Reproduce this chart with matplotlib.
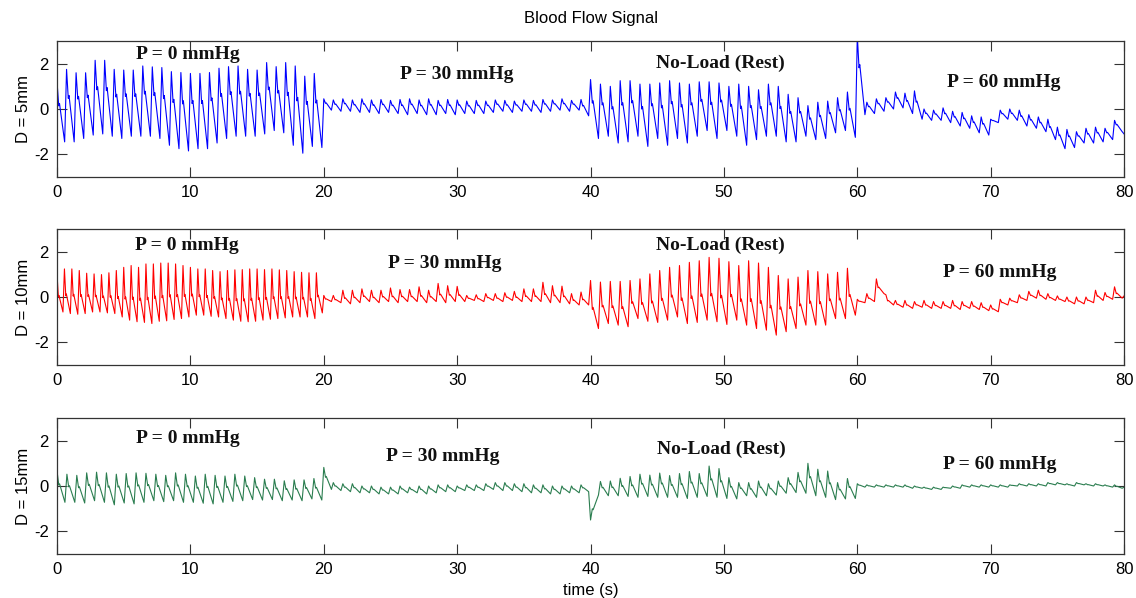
"""
Blood flow signal, three probe depths, four loading phases.
"""
import numpy as np
import matplotlib
matplotlib.use("Agg")
import matplotlib.pyplot as plt

plt.rcParams.update({
    "font.family": "Liberation Sans", "font.size": 12,
    "figure.facecolor": "white", "axes.facecolor": "white",
    "axes.unicode_minus": False,
})

# ── data: per-beat peak / trough values ──────────────────────────────────────
PHASES = ["P = 0 mmHg", "P = 30 mmHg", "No-Load (Rest)", "P = 60 mmHg"]
PHASE_STARTS = [0, 20, 40, 60]
DEPTHS = ["D = 5mm", "D = 10mm", "D = 15mm"]

# D = 5mm
D5_P0_PEAKS = [1.2, 1.75, 1.6, 1.6, 2.15, 2.15, 1.75, 1.72, 1.72, 1.9, 1.86, 1.83, 1.65, 1.61,
               1.57, 1.57, 1.61, 1.8, 1.87, 1.9, 1.75, 1.72, 2.05, 1.87, 2.05, 1.9, 1.45, 1.57]
D5_P0_TROUGHS = [-1.45, -1.45, -1.3, -1.15, -1.1, -1.2, -1.3, -1.2, -1.2, -1.2, -1.3, -1.6, -1.75, -1.85,
                 -1.75, -1.75, -1.5, -1.3, -1.2, -1.2, -1.2, -1.1, -0.95, -1.05, -1.6, -1.95, -1.65, -1.7]
D5_P30_PEAKS = [0.45, 0.4, 0.45, 0.4, 0.45, 0.4, 0.42, 0.38, 0.42, 0.45, 0.4, 0.45, 0.38, 0.42,
                0.4, 0.35, 0.38, 0.35, 0.4, 0.38, 0.35, 0.4, 0.38, 0.42, 0.4, 0.45, 0.38, 0.42]
D5_P30_TROUGHS = [-0.05, -0.1, -0.1, -0.15, -0.15, -0.2, -0.15, -0.2, -0.25, -0.2, -0.25, -0.25, -0.2, -0.25,
                  -0.2, -0.2, -0.2, -0.15, -0.1, -0.15, -0.1, -0.1, -0.15, -0.1, -0.05, -0.1, -0.05, -0.3]
D5_REST_PEAKS = [1.3, 1.1, 1.0, 1.25, 1.25, 1.1, 1.1, 1.15, 1.25, 1.15, 1.1, 1.2, 1.2, 1.15,
                 1.0, 1.1, 1.0, 0.85, 1.1, 1.0, 0.65, 0.5, 0.15, 0.3, 0.35, 0.5, 0.75]
D5_REST_TROUGHS = [-1.3, -1.2, -1.5, -1.45, -1.2, -1.65, -1.3, -1.6, -1.3, -1.5, -1.2, -0.95, -1.3, -0.95,
                   -1.2, -1.6, -1.35, -1.2, -1.2, -1.45, -1.45, -1.2, -1.35, -1.3, -1.05, -0.95, -1.25]
D5_P60_PEAKS = [3.2, 0.3, 0.45, 0.5, 0.75, 0.7, 0.8, 0.0, -0.05, 0.05, -0.1, -0.15, -0.3, -0.35,
                -0.45, -0.05, 0.0, -0.05, -0.25, -0.35, -0.45, -0.8, -0.9, -1.0, -0.85, -0.8, -0.85, -0.5]
D5_P60_TROUGHS = [-0.25, -0.2, -0.1, 0.0, 0.05, -0.2, -0.45, -0.5, -0.5, -0.6, -0.75, -0.85, -1.05, -1.15,
                  -0.6, -0.45, -0.5, -0.75, -0.85, -1.0, -1.35, -1.75, -1.7, -1.5, -1.5, -1.45, -1.35, -1.0]
D5_END = -1.1

# D = 10mm
D10_P0_PEAKS = [1.0, 1.24, 1.24, 1.17, 1.05, 1.02, 0.99, 1.07, 1.17, 1.31, 1.39, 1.31, 1.46, 1.46,
                1.5, 1.5, 1.46, 1.39, 1.31, 1.24, 1.24, 1.17, 1.12, 1.17, 1.2, 1.21, 1.24, 1.24,
                1.21, 1.24, 1.2, 1.17, 1.12, 1.09, 1.07, 1.07]
D10_P0_TROUGHS = [-0.66, -0.73, -0.76, -0.73, -0.66, -0.66, -0.7, -0.73, -0.88, -1.02, -1.09, -1.12, -1.17, -1.07,
                  -1.05, -0.99, -0.95, -0.88, -0.8, -0.8, -0.85, -0.88, -0.95, -1.02, -1.07, -1.09, -1.07, -1.02,
                  -0.98, -0.95, -0.92, -0.88, -0.88, -0.88, -0.95, -0.7]
D10_P30_PEAKS = [0.07, 0.07, 0.3, 0.3, 0.36, 0.3, 0.3, 0.4, 0.33, 0.33, 0.45, 0.3, 0.6, 0.5,
                 0.47, 0.07, 0.1, 0.15, 0.15, 0.19, 0.25, 0.36, 0.36, 0.65, 0.5, 0.48, 0.15, 0.22]
D10_P30_TROUGHS = [-0.2, -0.25, -0.3, -0.25, -0.2, -0.25, -0.2, -0.25, -0.2, -0.2, -0.25, -0.2, -0.25, -0.2,
                   -0.2, -0.15, -0.2, -0.15, -0.2, -0.15, -0.2, -0.2, -0.2, -0.25, -0.25, -0.3, -0.35, -0.35]
D10_REST_PEAKS = [0.73, 0.66, 0.69, 0.69, 0.73, 0.8, 1.02, 1.17, 1.31, 1.39, 1.53, 1.6, 1.75, 1.71,
                  1.56, 1.39, 1.6, 1.5, 1.31, 0.95, 0.8, 0.88, 1.17, 1.12, 1.02, 1.09, 1.27]
D10_REST_TROUGHS = [-1.39, -1.17, -1.24, -1.31, -0.95, -1.07, -1.12, -1.02, -0.88, -1.17, -1.12, -1.02, -1.09, -1.21,
                    -1.02, -1.24, -1.39, -1.46, -1.68, -1.53, -1.39, -1.24, -1.24, -1.24, -0.95, -0.95, -0.8]
D10_P60_PEAKS = [-0.1, 0.15, 0.8, 0.1, -0.15, -0.15, -0.2, -0.15, -0.2, -0.2, -0.15, -0.2, -0.2, -0.25,
                 -0.35, -0.1, -0.05, 0.1, 0.25, 0.3, 0.15, 0.05, 0.0, 0.0, 0.0, 0.3, 0.2, 0.45]
D10_P60_TROUGHS = [-0.25, -0.2, 0.15, -0.35, -0.45, -0.5, -0.45, -0.5, -0.5, -0.5, -0.55, -0.5, -0.55, -0.6,
                   -0.65, -0.35, -0.25, -0.15, -0.05, -0.1, -0.15, -0.2, -0.3, -0.3, -0.25, -0.15, -0.1, -0.05]
D10_END = 0.05

# D = 15mm
D15_P0_PEAKS = [0.66, 0.52, 0.47, 0.58, 0.61, 0.58, 0.52, 0.55, 0.58, 0.56, 0.52, 0.47, 0.58, 0.52,
                0.44, 0.52, 0.47, 0.44, 0.52, 0.44, 0.37, 0.3, 0.3, 0.23, 0.27, 0.27, 0.33]
D15_P0_TROUGHS = [-0.72, -0.72, -0.75, -0.65, -0.72, -0.83, -0.75, -0.79, -0.72, -0.65, -0.69, -0.65, -0.72, -0.72,
                  -0.76, -0.79, -0.72, -0.68, -0.65, -0.6, -0.62, -0.6, -0.65, -0.62, -0.65, -0.57, -0.62]
D15_P30_PEAKS = [0.82, 0.15, 0.1, 0.1, 0.0, 0.0, -0.05, -0.05, 0.0, -0.05, 0.0, 0.0, 0.05, 0.05,
                 0.0, 0.05, 0.05, 0.1, 0.15, 0.15, 0.1, 0.1, 0.05, 0.05, 0.0, 0.0, 0.0, 0.05]
D15_P30_TROUGHS = [-0.15, -0.2, -0.25, -0.3, -0.3, -0.35, -0.35, -0.35, -0.3, -0.3, -0.35, -0.3, -0.25, -0.25,
                   -0.2, -0.2, -0.2, -0.15, -0.2, -0.2, -0.25, -0.3, -0.3, -0.35, -0.35, -0.3, -0.3, -0.25]
D15_REST_PEAKS = [-1.5, 0.2, 0.22, 0.34, 0.42, 0.52, 0.48, 0.57, 0.46, 0.55, 0.64, 0.55, 0.88, 0.77,
                  0.37, 0.15, 0.15, 0.22, 0.1, 0.22, 0.37, 0.6, 1.0, 0.74, 0.66, 0.15, 0.33]
D15_REST_TROUGHS = [-0.4, -0.43, -0.43, -0.46, -0.5, -0.46, -0.5, -0.5, -0.5, -0.55, -0.5, -0.46, -0.5, -0.55,
                    -0.57, -0.43, -0.5, -0.43, -0.4, -0.32, -0.29, -0.32, -0.43, -0.5, -0.6, -0.57, -0.55]
D15_P60_PEAKS = [0.1, 0.05, 0.05, 0.05, 0.05, 0.05, 0.0, -0.05, -0.05, -0.05, 0.0, 0.05, 0.05, 0.05,
                 0.05, 0.05, 0.05, 0.1, 0.1, 0.1, 0.15, 0.15, 0.1, 0.15, 0.1, 0.1, 0.05, 0.05]
D15_P60_TROUGHS = [-0.05, -0.05, -0.05, -0.05, -0.05, -0.1, -0.1, -0.15, -0.15, -0.1, -0.1, -0.05, -0.05, -0.05,
                   -0.05, -0.05, 0.0, 0.0, 0.0, 0.0, 0.05, 0.05, 0.0, 0.05, 0.0, 0.0, -0.05, -0.1]
D15_END = -0.05

SIGNALS = [
    ([D5_P0_PEAKS, D5_P30_PEAKS, D5_REST_PEAKS, D5_P60_PEAKS],
     [D5_P0_TROUGHS, D5_P30_TROUGHS, D5_REST_TROUGHS, D5_P60_TROUGHS], D5_END),
    ([D10_P0_PEAKS, D10_P30_PEAKS, D10_REST_PEAKS, D10_P60_PEAKS],
     [D10_P0_TROUGHS, D10_P30_TROUGHS, D10_REST_TROUGHS, D10_P60_TROUGHS], D10_END),
    ([D15_P0_PEAKS, D15_P30_PEAKS, D15_REST_PEAKS, D15_P60_PEAKS],
     [D15_P0_TROUGHS, D15_P30_TROUGHS, D15_REST_TROUGHS, D15_P60_TROUGHS], D15_END),
]

# ── styling ──────────────────────────────────────────────────────────────────
COLORS = ["#0000ff", "#ff0000", "#2a7d4f"]
NOTCH = [0.6, 0.4, 0.55]          # dicrotic notch level within each beat (fraction of swing)
LABEL_XY = [  # (x, y) of the phase labels per panel
    [(9.8, 2.42), (30.0, 1.54), (49.7, 2.03), (71.0, 1.19)],
    [(9.7, 2.29), (29.1, 1.5), (49.7, 2.29), (70.7, 1.1)],
    [(9.8, 2.1), (28.9, 1.28), (49.8, 1.63), (70.7, 0.97)],
]
AX_BOTTOMS = [0.7040, 0.3896, 0.0736]
FRAME = "#333333"
SEG_LEN = 20


def beat_trace(start, peaks, troughs, notch):
    """Beat shape: sharp peak, drop to notch, small bump, fall to trough."""
    dt = SEG_LEN / len(peaks)
    ts, ys = [], []
    for i, (p, tr) in enumerate(zip(peaks, troughs)):
        t0 = start + i * dt
        ts += [t0, t0 + 0.18 * dt, t0 + 0.26 * dt, t0 + 0.8 * dt]
        ys += [p, tr + notch * (p - tr), tr + (notch + 0.04) * (p - tr), tr]
    return ts, ys


fig = plt.figure(figsize=(11.36, 5.98), dpi=100)
axes = []
for k, (peaks_list, troughs_list, end_val) in enumerate(SIGNALS):
    ax = fig.add_axes([0.0502, AX_BOTTOMS[k], 0.9393, 0.2274])
    axes.append(ax)
    t_all, y_all = [], []
    for start, pk, tr in zip(PHASE_STARTS, peaks_list, troughs_list):
        ts, ys = beat_trace(start, pk, tr, NOTCH[k])
        t_all += ts; y_all += ys
    t_all.append(80); y_all.append(end_val)
    ax.plot(t_all, y_all, color=COLORS[k], lw=0.8)

    for label, (lx, ly) in zip(PHASES, LABEL_XY[k]):
        ax.text(lx, ly, label, ha="center", va="center", fontsize=14,
                fontweight="bold", family="Liberation Serif", color="#111111")

    ax.set_xlim(0, 80)
    ax.set_ylim(-3, 3)
    ax.set_xticks(range(0, 81, 10))
    ax.set_yticks([-2, 0, 2])
    ax.tick_params(direction="in", length=7, width=0.8, color=FRAME,
                   top=True, right=True, labelsize=12, pad=6)
    for s in ax.spines.values():
        s.set_color(FRAME); s.set_linewidth(0.9)
    ax.set_ylabel(DEPTHS[k], fontsize=12, labelpad=2)

axes[0].set_title("Blood Flow Signal", fontsize=12, pad=13)
axes[-1].set_xlabel("time (s)", fontsize=12, labelpad=4)

fig.savefig("out.png", dpi=100)
